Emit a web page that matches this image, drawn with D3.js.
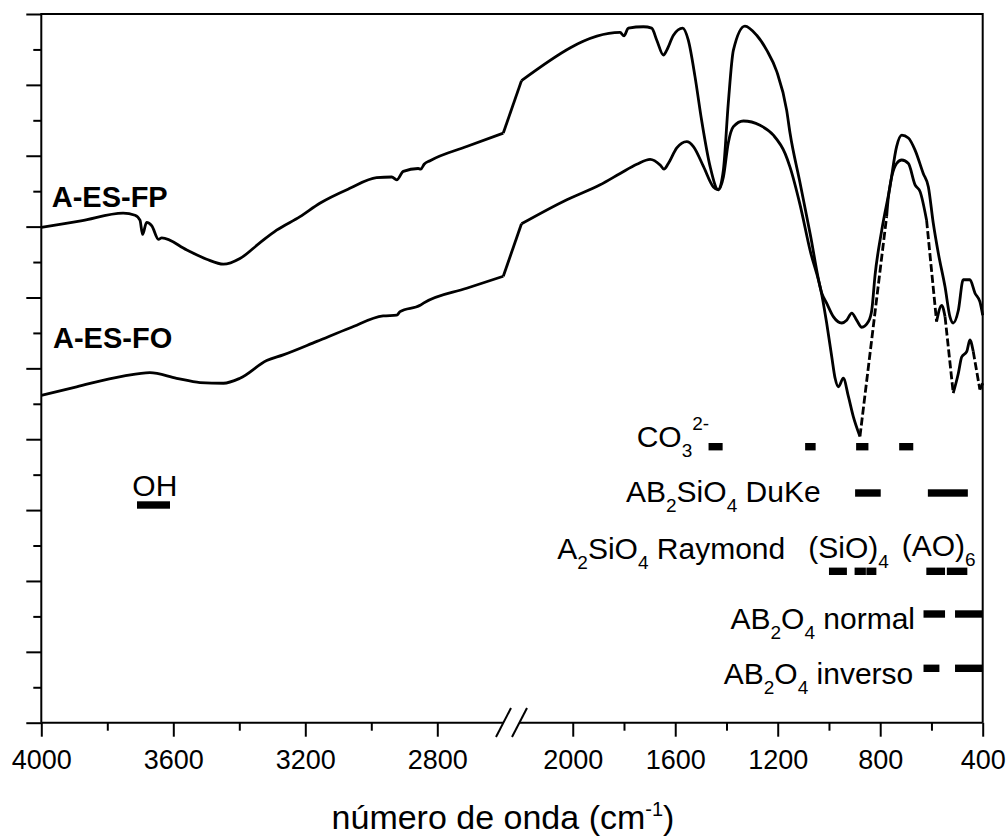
<!DOCTYPE html>
<html>
<head>
<meta charset="utf-8">
<script src="https://cdn.jsdelivr.net/npm/d3@7"></script>
<style>
  body { margin: 0; background: #fff; }
  svg text { font-family: "Liberation Sans", Arial, sans-serif; fill: #000; }
</style>
</head>
<body>
<svg id="chart" width="1008" height="836"></svg>
<script>
// A-ES-FP spectrum: wavenumber (cm-1) and transmittance (a.u.)
var fpWave = [4000, 3880, 3752, 3716, 3701, 3693, 3681, 3665, 3645, 3635, 3559, 3499, 3448, 3398, 3338, 3287, 3216, 3156, 3065, 2984,
  2938, 2923, 2903, 2858, 2850, 2840, 2822, 2711, 2600,
  2200, 1815, 1800, 1783, 1724, 1692, 1672, 1646, 1633, 1607, 1571, 1549, 1523, 1497, 1464, 1432, 1412, 1393, 1373, 1328,
  1282, 1243, 1204, 1165, 1152, 1113, 1074, 1028, 1009, 983, 950, 931, 911, 892, 872, 846, 833, 820, 794, 762,
  736, 716, 690, 664, 632, 612, 593, 573, 547, 528, 515, 495, 476, 450, 430, 411, 400];
var fpVal = [69.9, 70.8, 71.9, 71.6, 70.9, 68.9, 70.6, 70.1, 68.2, 68.4, 66.7, 65.4, 64.7, 65.5, 67.7, 69.5, 71.4, 73.3, 75.4, 76.9,
  77.0, 76.6, 77.8, 78.2, 78.1, 78.8, 79.3, 81.3, 83.2,
  90.6, 97.4, 96.9, 98.0, 98.2, 98.0, 96.3, 94.2, 94.9, 97.0, 98.0, 96.3, 91.2, 85.0, 78.5, 75.2, 78.0, 87.4, 94.9, 98.3,
  97.0, 94.9, 91.9, 86.4, 83.2, 76.2, 69.1, 60.6, 59.2, 57.3, 56.4, 56.8, 57.8, 56.8, 55.8, 56.6, 58.2, 63.2, 69.5, 75.6,
  81.3, 82.9, 82.5, 80.8, 77.5, 75.6, 70.5, 66.2, 61.5, 57.3, 56.4, 58.2, 62.5, 62.5, 60.6, 59.4, 57.5];

// A-ES-FO spectrum
var foWave = [4000, 3893, 3752, 3671, 3590, 3519, 3448, 3398, 3317, 3267, 3165, 3065, 2964, 2923, 2913, 2852, 2842, 2711, 2600,
  2200, 2023, 1893, 1815, 1750, 1698, 1659, 1644, 1627, 1594, 1555, 1529, 1490, 1451, 1432, 1412, 1393, 1373, 1334, 1269,
  1217, 1171, 1152, 1113, 1074, 1028, 1009, 989, 976, 963, 944, 924, 905, 879, 775, 768, 736, 716, 690, 664,
  644, 619, 580, 560, 547, 515, 495, 482, 462, 450, 437, 411, 400];
var foVal = [46.2, 47.4, 48.9, 49.4, 48.6, 48.0, 47.9, 48.6, 51.1, 51.9, 53.8, 55.7, 57.4, 57.5, 58.0, 58.9, 59.2, 61.3, 63.0,
  70.4, 73.8, 75.9, 77.5, 78.8, 79.5, 78.7, 78.1, 78.9, 81.1, 82.0, 81.3, 78.5, 75.6, 75.2, 77.0, 81.8, 84.1, 84.9, 84.3,
  82.9, 80.3, 78.4, 73.1, 66.7, 60.4, 56.4, 51.6, 48.6, 47.4, 48.6, 46.0, 43.2, 40.4, 71.4, 74.2, 78.9, 79.4, 78.9, 75.9,
  74.9, 70.9, 56.6, 58.9, 57.3, 46.5, 49.3, 51.6, 52.4, 54.0, 52.4, 47.0, 47.9];
// gaps in FO bridged with dashed straight lines
var foDashed = [[879, 775], [619, 580], [547, 515], [437, 411]];
// axis break, bridged with a straight solid line
var axisBreak = [[2600, 2200]];

// axis ticks
var xMajorTicks = [4000, 3600, 3200, 2800, 2000, 1600, 1200, 800, 400];
var xMinorTicks = [3800, 3400, 3000, 1800, 1400, 1000, 600];
var yMajorTicks = [0, 10, 20, 30, 40, 50, 60, 70, 80, 90, 100];
var yMinorTicks = [5, 15, 25, 35, 45, 55, 65, 75, 85, 95];

// band assignments (cm-1 ranges)
var bandsOH = [[3710, 3610]];
var bandsCO3 = [[1470, 1415], [1093, 1052], [894, 846], [726, 671]];
var bandsDuKe = [[898, 798], [614, 458]];
var bandsRaymond = [[1000, 930], [900, 856], [854, 815], [620, 547], [540, 460]];
var bandsNormal = [[631, 547], [508, 400]];
var bandsInverso = [[631, 569], [508, 400]];

var svg = d3.select("#chart");
var plotL = 41.3, plotR = 982.7, plotT = 14, plotB = 722.7;

// broken axis: 4000-2600 | 2200-400
var x = d3.scaleLinear().domain([4000, 2600, 2200, 400]).range([plotL, 503.3, 521.5, plotR]);
var y = d3.scaleLinear().domain([0, 100]).range([plotB, plotT]);

var smooth = d3.line()
    .x(function (d) { return x(d[0]); })
    .y(function (d) { return y(d[1]); })
    .curve(d3.curveMonotoneX);
var straight = d3.line()
    .x(function (d) { return x(d[0]); })
    .y(function (d) { return y(d[1]); });

function drawPath(pts, gen, dash) {
    svg.append("path")
        .datum(pts)
        .attr("d", gen)
        .attr("fill", "none")
        .attr("stroke", "#000")
        .attr("stroke-width", 2.8)
        .attr("stroke-linejoin", "round")
        .attr("stroke-dasharray", dash || null);
}

function isPair(list, a, b) {
    return list.some(function (g) { return g[0] === a[0] && g[1] === b[0]; });
}

// smooth runs, straight solid bridges over the axis break, dashed bridges over gaps
function drawSeries(wave, vals, dashed) {
    var pts = d3.zip(wave, vals);
    var cur = [pts[0]];
    for (var i = 1; i < pts.length; i++) {
        var a = pts[i - 1], b = pts[i];
        if (isPair(dashed, a, b) || isPair(axisBreak, a, b)) {
            drawPath(cur, smooth);
            drawPath([a, b], straight, isPair(dashed, a, b) ? "8,3" : null);
            cur = [b];
        } else {
            cur.push(b);
        }
    }
    drawPath(cur, smooth);
}

drawSeries(fpWave, fpVal, []);
drawSeries(foWave, foVal, foDashed);

// axes
var gx = svg.append("g").attr("transform", "translate(0," + plotB + ")");
gx.call(d3.axisBottom(x).tickValues(xMajorTicks).tickSize(14).tickPadding(13.6).tickFormat(d3.format("d")));
gx.select(".domain").remove();
gx.attr("font-size", 27).attr("font-family", null);
var gx2 = svg.append("g").attr("transform", "translate(0," + plotB + ")");
gx2.call(d3.axisBottom(x).tickValues(xMinorTicks).tickSize(8).tickFormat(""));
gx2.select(".domain").remove();

var gy = svg.append("g").attr("transform", "translate(" + plotL + ",0)");
gy.call(d3.axisLeft(y).tickValues(yMajorTicks).tickSize(15).tickFormat(""));
gy.select(".domain").remove();
var gy2 = svg.append("g").attr("transform", "translate(" + plotL + ",0)");
gy2.call(d3.axisLeft(y).tickValues(yMinorTicks).tickSize(8).tickFormat(""));
gy2.select(".domain").remove();

svg.selectAll(".tick line").attr("stroke-width", 2);

// frame with break on the bottom axis
var frame = [
    [[plotL, plotB], [plotL, plotT], [plotR, plotT], [plotR, plotB]],
    [[plotL, plotB], [503.5, plotB]],
    [[519.5, plotB], [plotR, plotB]],
    [[496, 737], [511, 708]],
    [[512, 737], [527, 708]]
];
frame.forEach(function (p) {
    svg.append("path")
        .attr("d", d3.line()(p))
        .attr("fill", "none")
        .attr("stroke", "#000")
        .attr("stroke-width", 2);
});

// band bars
function bars(list, yc) {
    svg.append("g").selectAll("rect")
        .data(list)
        .join("rect")
        .attr("x", function (d) { return x(d[0]); })
        .attr("width", function (d) { return x(d[1]) - x(d[0]); })
        .attr("y", yc - 3.7)
        .attr("height", 7.4)
        .attr("fill", "#000");
}
bars(bandsOH, 505);
bars(bandsCO3, 446.7);
bars(bandsDuKe, 493);
bars(bandsRaymond, 571.3);
bars(bandsNormal, 614);
bars(bandsInverso, 668.3);

// text with sub/superscripts: parts = [[string, "n"|"sub"|"sup"], ...]
function label(px, py, parts, opts) {
    opts = opts || {};
    var size = opts.size || 30, small = opts.small || 19;
    var t = svg.append("text")
        .attr("x", px).attr("y", py)
        .attr("font-size", size)
        .attr("font-weight", opts.bold ? "bold" : null)
        .attr("text-anchor", opts.anchor || "start");
    var off = 0;
    parts.forEach(function (p) {
        var target = p[1] === "sub" ? (opts.subShift || 10) : p[1] === "sup" ? -(opts.supShift || 16.5) : 0;
        t.append("tspan")
            .attr("dy", target - off)
            .attr("font-size", p[1] === "n" ? size : small)
            .text(p[0]);
        off = target;
    });
    return t;
}

label(51.7, 207.3, [["A-ES-FP", "n"]], { bold: true, size: 29 });
label(53, 347.7, [["A-ES-FO", "n"]], { bold: true, size: 29 });
label(132.3, 496, [["OH", "n"]]);
label(636.7, 446.7, [["CO", "n"], ["3", "sub"], ["2-", "sup"]]);
label(626, 501.7, [["AB", "n"], ["2", "sub"], ["SiO", "n"], ["4", "sub"], [" DuKe", "n"]]);
label(557.3, 559.3, [["A", "n"], ["2", "sub"], ["SiO", "n"], ["4", "sub"], [" Raymond", "n"]]);
label(808.3, 558, [["(SiO)", "n"], ["4", "sub"]]);
label(901.7, 556, [["(AO)", "n"], ["6", "sub"]]);
label(915, 629.3, [["AB", "n"], ["2", "sub"], ["O", "n"], ["4", "sub"], [" normal", "n"]], { anchor: "end" });
label(913.3, 684.3, [["AB", "n"], ["2", "sub"], ["O", "n"], ["4", "sub"], [" inverso", "n"]], { anchor: "end" });

// axis title
label(503, 829, [["número de onda (cm", "n"], ["-1", "sup"], [")", "n"]], { size: 34, small: 20, anchor: "middle", supShift: 13.5 });
</script>
</body>
</html>
